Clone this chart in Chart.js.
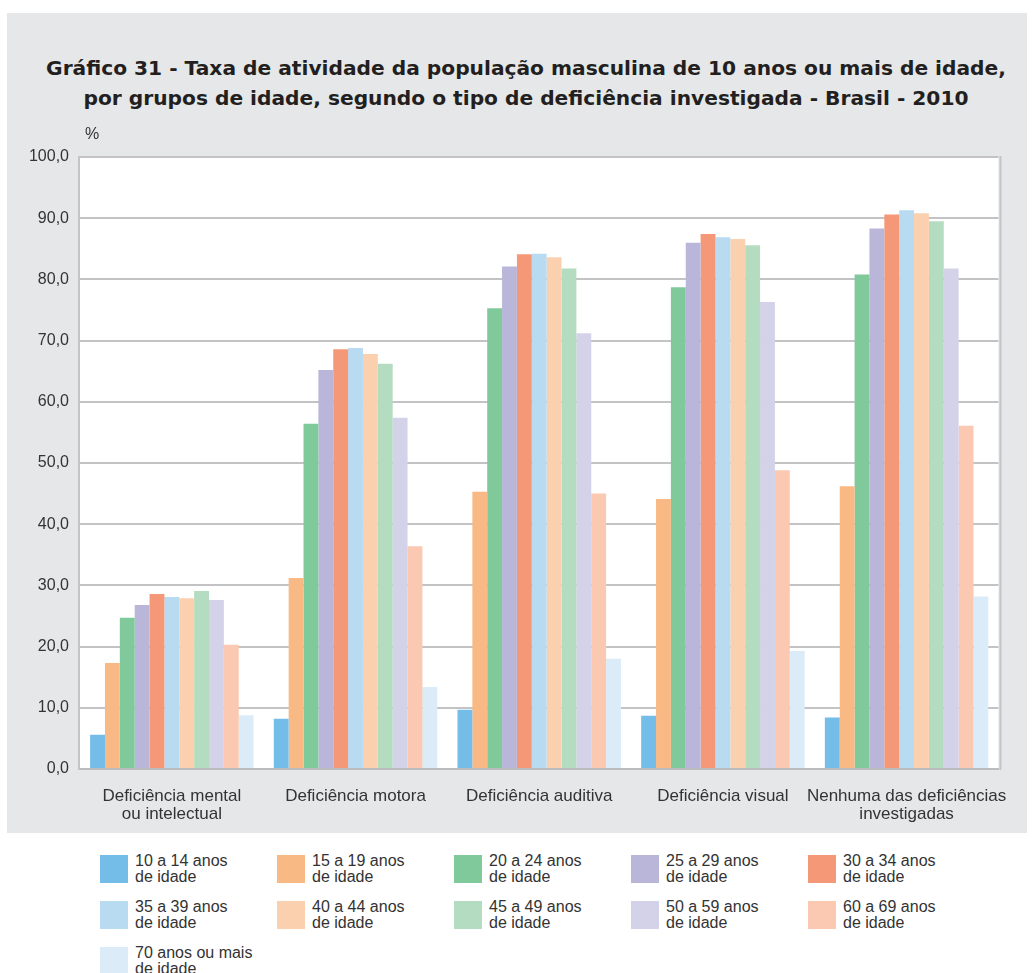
<!DOCTYPE html>
<html>
<head>
<meta charset="utf-8">
<script src="https://cdn.jsdelivr.net/npm/chart.js@4"></script>
<style>
  body { margin: 0; background: #fff; font-family: "Liberation Sans", Arial, sans-serif; color: #333; }
  #panel { position: absolute; left: 7px; top: 13px; width: 1020px; height: 820px; background: #e6e7e8; }
  #title { position: absolute; left: 18px; right: 0; top: 40px; margin: 0; text-align: center;
           font-family: "DejaVu Sans", sans-serif; font-size: 20.2px; line-height: 30px; font-weight: bold; color: #231f20; }
  #chart { position: absolute; left: 0; top: 0; }
  .item { position: absolute; width: 170px; height: 30px; }
  .box { position: absolute; left: 0; top: 0; width: 28px; height: 28px; }
  .txt { position: absolute; left: 35px; top: -2px; font-size: 16px; line-height: 16px; white-space: nowrap; color: #333; }
</style>
</head>
<body>
<div id="panel">
  <h1 id="title">Gráfico 31 - Taxa de atividade da população masculina de 10 anos ou mais de idade,<br>por grupos de idade, segundo o tipo de deficiência investigada - Brasil - 2010</h1>
  <canvas id="chart" width="1020" height="820"></canvas>
</div>
<div id="legend"></div>
<script>
const categories = [
  ['Deficiência mental', 'ou intelectual'],
  ['Deficiência motora'],
  ['Deficiência auditiva'],
  ['Deficiência visual'],
  ['Nenhuma das deficiências', 'investigadas']
];
const ageGroups = [
  ['10 a 14 anos', 'de idade'], ['15 a 19 anos', 'de idade'], ['20 a 24 anos', 'de idade'],
  ['25 a 29 anos', 'de idade'], ['30 a 34 anos', 'de idade'], ['35 a 39 anos', 'de idade'],
  ['40 a 44 anos', 'de idade'], ['45 a 49 anos', 'de idade'], ['50 a 59 anos', 'de idade'],
  ['60 a 69 anos', 'de idade'], ['70 anos ou mais', 'de idade']
];
const colors = ['#74bde8', '#f9b984', '#80c99a', '#bab6d9', '#f59878', '#b9dbf2',
                '#fbd0ae', '#b4dcc0', '#d4d2e8', '#fbc8b2', '#dbecf8'];

// taxa de atividade (%) por grupo de idade, na ordem das categorias
const age10to14 = [5.6, 8.2, 9.7, 8.7, 8.4];
const age15to19 = [17.3, 31.2, 45.3, 44.1, 46.2];
const age20to24 = [24.7, 56.4, 75.3, 78.7, 80.8];
const age25to29 = [26.8, 65.2, 82.1, 86.0, 88.3];
const age30to34 = [28.6, 68.6, 84.1, 87.4, 90.6];
const age35to39 = [28.1, 68.8, 84.2, 86.9, 91.3];
const age40to44 = [27.9, 67.8, 83.6, 86.6, 90.8];
const age45to49 = [29.1, 66.2, 81.8, 85.6, 89.5];
const age50to59 = [27.6, 57.4, 71.2, 76.3, 81.8];
const age60to69 = [20.3, 36.4, 45.0, 48.8, 56.1];
const age70plus = [8.8, 13.4, 18.0, 19.3, 28.2];

const yTicks = [0, 10, 20, 30, 40, 50, 60, 70, 80, 90, 100];

const series = [age10to14, age15to19, age20to24, age25to29, age30to34, age35to39,
                age40to44, age45to49, age50to59, age60to69, age70plus];

const plotFrame = {
  id: 'plotFrame',
  beforeDraw(chart) {
    const { ctx, chartArea: a } = chart;
    ctx.save();
    ctx.fillStyle = '#fff';
    ctx.fillRect(a.left, a.top, a.right - a.left, a.bottom - a.top);
    ctx.restore();
  },
  afterDraw(chart) {
    const { ctx, chartArea: a } = chart;
    ctx.save();
    ctx.strokeStyle = '#c4c4c6';
    ctx.lineWidth = 2;
    ctx.beginPath();
    ctx.moveTo(a.right + 2, a.top - 1);
    ctx.lineTo(a.right + 2, a.bottom + 1);
    ctx.moveTo(a.left - 1, a.top - 1);
    ctx.lineTo(a.left - 1, a.bottom + 1);
    ctx.stroke();
    ctx.fillStyle = '#333';
    ctx.font = '16px "Liberation Sans", Arial, sans-serif';
    ctx.textAlign = 'center';
    ctx.textBaseline = 'middle';
    ctx.fillText('%', a.left + 12, a.top - 22);
    ctx.restore();
  }
};

new Chart(document.getElementById('chart'), {
  type: 'bar',
  data: {
    labels: categories,
    datasets: series.map((d, i) => ({
      label: ageGroups[i].join(' '),
      data: d,
      backgroundColor: colors[i],
      borderWidth: 0
    }))
  },
  options: {
    responsive: false,
    animation: false,
    categoryPercentage: 0.89,
    barPercentage: 1.0,
    layout: { padding: { top: 144, right: 27, left: 0, bottom: 0 } },
    plugins: { legend: { display: false }, title: { display: false }, tooltip: { enabled: false } },
    scales: {
      x: {
        grid: { display: false, drawTicks: false },
        border: { display: true, color: '#bdbdbf', width: 2 },
        ticks: { color: '#333', font: { size: 17, family: '"Liberation Sans", Arial, sans-serif', lineHeight: 1.06 },
                 padding: 18, maxRotation: 0, autoSkip: false },
        afterFit(s) { s.height = 64; }
      },
      y: {
        min: 0, max: 100,
        afterBuildTicks(s) { s.ticks = yTicks.map(v => ({ value: v })); },
        grid: { color: '#c3c3c5', lineWidth: 2, drawTicks: false },
        border: { display: false },
        ticks: { color: '#333', font: { size: 16, family: '"Liberation Sans", Arial, sans-serif' }, padding: 11,
                 callback: v => v.toFixed(1).replace('.', ',') },
        afterFit(s) { s.width = 73; }
      }
    }
  },
  plugins: [plotFrame]
});

// legenda em cinco colunas abaixo do painel
const legend = document.getElementById('legend');
ageGroups.forEach((lines, i) => {
  const item = document.createElement('div');
  item.className = 'item';
  item.style.left = (100 + (i % 5) * 177) + 'px';
  item.style.top = (855 + Math.floor(i / 5) * 46) + 'px';
  item.innerHTML = '<div class="box" style="background:' + colors[i] + '"></div>' +
                   '<div class="txt">' + lines.join('<br>') + '</div>';
  legend.appendChild(item);
});
</script>
</body>
</html>
